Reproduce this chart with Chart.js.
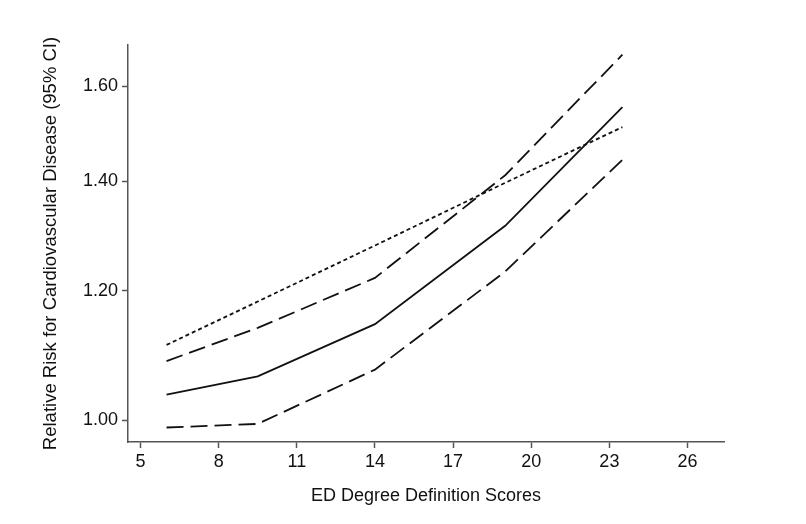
<!DOCTYPE html>
<html>
<head>
<meta charset="utf-8">
<script src="https://cdn.jsdelivr.net/npm/chart.js@4/dist/chart.umd.min.js"></script>
<style>
  html, body { margin: 0; padding: 0; background: #fff; }
  #wrap { width: 806px; height: 524px; }
</style>
</head>
<body>
<div id="wrap"><canvas id="rrChart" width="806" height="524"></canvas></div>
<script>
// --- datos ---
const xScores   = [6, 9.5, 14, 19, 23.5];
const rrEstimate = [1.037, 1.064, 1.145, 1.315, 1.554];
const rrUpper    = [1.087, 1.139, 1.222, 1.412, 1.673];
const rrLower    = [0.990, 0.995, 1.074, 1.233, 1.443];
const rrTrend    = [1.112, 1.182, 1.279, 1.397, 1.511];

const xTicks = [5, 8, 11, 14, 17, 20, 23, 26];
const yTicks = [1.00, 1.20, 1.40, 1.60];

const font = { family: "'Liberation Sans', Arial, sans-serif", size: 18 };
const titleFont = { family: "'Liberation Sans', Arial, sans-serif", size: 18.5 };
const axisColor = '#555';

function toPoints(vals) {
  return xScores.map((x, i) => ({ x: x, y: vals[i] }));
}

function lineSet(label, vals, dash) {
  return {
    label: label,
    data: toPoints(vals),
    borderColor: '#111',
    borderWidth: 1.8,
    borderDash: dash,
    pointRadius: 0,
    tension: 0,
    fill: false
  };
}

new Chart(document.getElementById('rrChart'), {
  type: 'line',
  data: {
    datasets: [
      lineSet('RR', rrEstimate, []),
      lineSet('Upper 95% CI', rrUpper, [17, 7]),
      lineSet('Lower 95% CI', rrLower, [17, 7]),
      lineSet('Trend', rrTrend, [4, 3])
    ]
  },
  options: {
    responsive: false,
    animation: false,
    layout: { padding: { left: 0, right: 82, top: 45, bottom: 0 } },
    plugins: { legend: { display: false }, tooltip: { enabled: false } },
    scales: {
      x: {
        type: 'linear',
        min: 4.52,
        max: 27.4,
        afterBuildTicks: s => { s.ticks = xTicks.map(v => ({ value: v })); },
        afterFit: s => { s.height = 82; },
        grid: { display: true, drawOnChartArea: false, drawTicks: true, tickLength: 6, tickColor: axisColor, tickWidth: 1.5 },
        border: { display: true, color: axisColor, width: 1.5 },
        ticks: { autoSkip: false, maxRotation: 0, padding: 3, color: '#111', font: font, callback: v => String(v) },
        title: { display: true, text: 'ED Degree Definition Scores', color: '#111', font: font, padding: { top: 0, bottom: 17 } }
      },
      y: {
        type: 'logarithmic',
        min: 0.974,
        max: 1.696,
        afterBuildTicks: s => { s.ticks = yTicks.map(v => ({ value: v })); },
        afterFit: s => { s.width = 128; },
        grid: { display: true, drawOnChartArea: false, drawTicks: true, tickLength: 6, tickColor: axisColor, tickWidth: 1.5 },
        border: { display: true, color: axisColor, width: 1.5 },
        ticks: { autoSkip: false, padding: 4, color: '#111', font: font, callback: v => Number(v).toFixed(2) },
        title: { display: true, text: 'Relative Risk for Cardiovascular Disease (95% CI)', color: '#111', font: titleFont, padding: { top: 40, bottom: 0 } }
      }
    }
  }
});
</script>
</body>
</html>
